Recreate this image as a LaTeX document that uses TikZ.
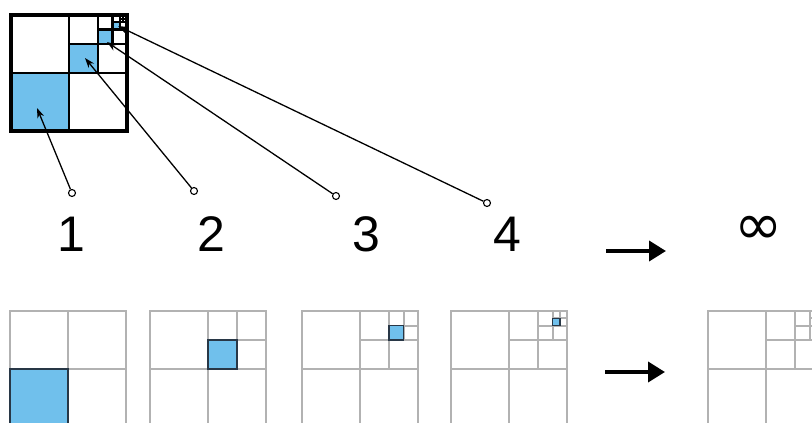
\documentclass[tikz,border=0pt]{standalone}
\usepackage{fontspec}
\setmainfont{Liberation Sans}
\newfontfamily\symfont{DejaVu Sans}
\usetikzlibrary{arrows.meta}
\definecolor{qblue}{RGB}{112,192,236}
\definecolor{qgray}{RGB}{178,178,178}
\definecolor{qedge}{RGB}{40,55,70}
\tikzset{
  lbl/.style={font=\fontsize{50}{50}\selectfont, inner sep=0pt},
  pin/.style={circle, draw=black, fill=white, line width=1.1pt, inner sep=0pt, minimum size=7pt},
  pointer/.style={line width=1.3pt, -{Stealth[length=10pt,width=7pt]}},
  bigarrow/.style={line width=3.8pt, -{Triangle[length=17pt,width=20pt]}},
  topline/.style={line width=2.2pt, black},
  botline/.style={line width=2pt, qgray},
  botblue/.style={fill=qblue, draw=qedge, line width=1.5pt},
  topblue/.style={fill=qblue, draw=none}
}
% #1 x0, #2 y0, #3 side, #4 levels, #5 blue level (0 = none), #6 line style, #7 blue style
\newcommand\quadgrid[7]{%
  \foreach \k in {1,...,#4}{%
    \pgfmathsetmacro\qt{#3/2^(\k-1)}%
    \pgfmathsetmacro\qx{#1+#3-\qt}%
    \pgfmathsetmacro\qh{\qt/2}%
    \draw[#6] (\qx+\qh,#2) -- (\qx+\qh,#2+\qt);
    \draw[#6] (\qx,#2+\qh) -- (\qx+\qt,#2+\qh);
    \ifnum\k=#5\relax
      \path[#7] (\qx,#2+\qh) rectangle (\qx+\qh,#2+\qt);
    \fi
  }%
}
\begin{document}
\begin{tikzpicture}[x=1pt,y=-1pt]
\useasboundingbox (0,0) rectangle (812,423);
\clip (0,0) rectangle (812,423);
% ---- top square with blue cells
\fill[qblue] (11,73) rectangle (69,131);
\fill[qblue] (69,44) rectangle (98,73);
\fill[qblue] (98,29.5) rectangle (112.5,44);
\fill[qblue] (112.5,22.25) rectangle (119.75,29.5);
\quadgrid{11}{15}{116}{5}{0}{topline}{topblue}
\draw[line width=4.5pt, black] (11,15) rectangle (127,131);
% pointer tips
\coordinate (t1) at (37,108);
\coordinate (t2) at (85,58);
\coordinate (t3) at (107,42);
\coordinate (t4) at (118,26);
% pins
\node[pin] (p1) at (72,193) {};
\node[pin] (p2) at (194,191) {};
\node[pin] (p3) at (336,196) {};
\node[pin] (p4) at (487,203) {};
\draw[pointer] (p1) -- (t1);
\draw[pointer] (p2) -- (t2);
\draw[pointer] (p3) -- (t3);
\draw[pointer] (p4) -- (t4);
% labels
\node[lbl] (n1) at (71,234) {1};
\node[lbl] (n2) at (211,234) {2};
\node[lbl] (n3) at (366,234) {3};
\node[lbl] (n4) at (507,234) {4};
\node[inner sep=0pt, font=\symfont\fontsize{58}{58}\selectfont] (ninf) at (759,230) {∞};
\coordinate (a1s) at (606,251);
\coordinate (a1e) at (666,251);
\draw[bigarrow] (a1s) -- (a1e);
% ---- bottom row
\quadgrid{10}{311}{116}{1}{1}{botline}{botblue}
\draw[botline] (10,311) rectangle (126,427);
\path[botblue] (10,369) rectangle (68,427);
\quadgrid{150}{311}{116}{2}{2}{botline}{botblue}
\draw[botline] (150,311) rectangle (266,427);
\path[botblue] (208,340) rectangle (237,369);
\quadgrid{302}{311}{116}{3}{3}{botline}{botblue}
\draw[botline] (302,311) rectangle (418,427);
\path[botblue] (389,325.5) rectangle (403.5,340);
\quadgrid{451}{311}{116}{4}{4}{botline}{botblue}
\draw[botline] (451,311) rectangle (567,427);
\path[botblue] (552.5,318.25) rectangle (559.75,325.5);
\quadgrid{708}{311}{116}{9}{0}{botline}{botblue}
\draw[botline] (708,311) rectangle (824,427);
\coordinate (a2s) at (605,372);
\coordinate (a2e) at (665,372);
\draw[bigarrow] (a2s) -- (a2e);
\end{tikzpicture}
\end{document}
